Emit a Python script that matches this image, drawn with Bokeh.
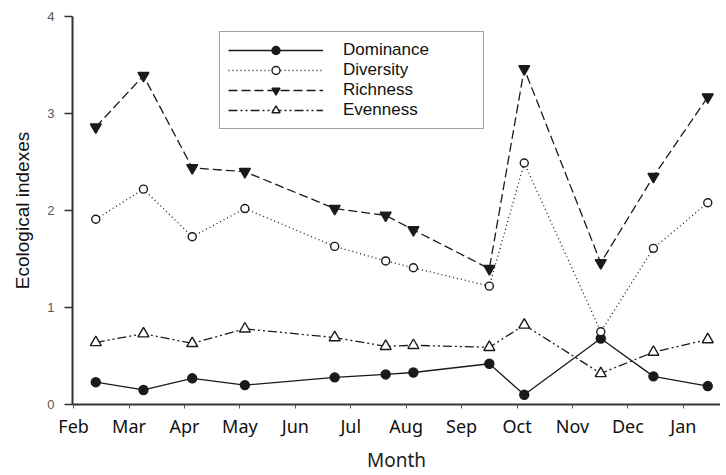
from bokeh.plotting import figure
from bokeh.models import FixedTicker, Range1d
from bokeh.embed import file_html
from bokeh.resources import INLINE

months = ["Feb", "Mar", "Apr", "May", "Jun", "Jul", "Aug", "Sep", "Oct", "Nov", "Dec", "Jan"]
sample_pos = [0.40, 1.26, 2.14, 3.09, 4.71, 5.63, 6.13, 7.50, 8.13, 9.51, 10.46, 11.44]
dominance = [0.23, 0.15, 0.27, 0.20, 0.28, 0.31, 0.33, 0.42, 0.10, 0.68, 0.29, 0.19]
diversity = [1.91, 2.22, 1.73, 2.02, 1.63, 1.48, 1.41, 1.22, 2.49, 0.75, 1.61, 2.08]
richness = [2.86, 3.39, 2.44, 2.40, 2.02, 1.95, 1.80, 1.40, 3.46, 1.46, 2.35, 3.17]
evenness = [0.64, 0.73, 0.63, 0.78, 0.69, 0.60, 0.61, 0.59, 0.82, 0.32, 0.54, 0.67]

p = figure(width=720, height=475, output_backend="svg", toolbar_location=None,
           x_range=Range1d(-0.02, 11.67), y_range=Range1d(0, 4),
           min_border_left=72, min_border_right=0, min_border_top=16, min_border_bottom=70)
p.outline_line_color = None
p.xgrid.visible = False
p.ygrid.visible = False
p.background_fill_color = "white"

ink = "#1a1a1a"
series = [
    ("Dominance", dominance, "solid", "circle", ink, 9),
    ("Diversity", diversity, "1 3", "circle", "white", 8),
    ("Richness", richness, "9 4", "inverted_triangle", ink, 11),
    ("Evenness", evenness, "9 3 2 3 2 3", "triangle", "white", 11),
]
for name, vals, dash, marker, fill, size in series:
    p.line(sample_pos, vals, line_color=ink, line_width=1.3, line_dash=dash, legend_label=name)
    p.scatter(sample_pos, vals, marker=marker, size=size, line_color=ink, line_width=1.4,
              fill_color=fill, legend_label=name)

# x axis
p.xaxis.ticker = FixedTicker(ticks=list(range(len(months))))
p.xaxis.major_label_overrides = {i: m for i, m in enumerate(months)}
p.xaxis.axis_label = "Month"
p.xaxis.axis_line_width = 2
p.xaxis.axis_line_color = "#333333"
p.xaxis.major_tick_line_color = "#555555"
p.xaxis.major_tick_out = 4
p.xaxis.major_tick_in = 0
p.xaxis.minor_tick_line_color = None
p.xaxis.major_label_text_font = "Noto Sans"
p.xaxis.major_label_text_font_size = "18px"
p.xaxis.major_label_text_color = "#111111"
p.xaxis.major_label_standoff = 5
p.xaxis.axis_label_text_font = "Noto Sans"
p.xaxis.axis_label_text_font_size = "19px"
p.xaxis.axis_label_text_font_style = "normal"
p.xaxis.axis_label_text_color = "#222222"
p.xaxis.axis_label_standoff = 6

# y axis
p.yaxis.ticker = FixedTicker(ticks=[0, 1, 2, 3, 4])
p.yaxis.axis_label = "Ecological indexes"
p.yaxis.axis_line_width = 2
p.yaxis.axis_line_color = "#333333"
p.yaxis.major_tick_line_color = "#333333"
p.yaxis.major_tick_line_width = 1.5
p.yaxis.major_tick_out = 8
p.yaxis.major_tick_in = 0
p.yaxis.minor_tick_line_color = None
p.yaxis.major_label_text_font = "Liberation Sans"
p.yaxis.major_label_text_font_size = "13px"
p.yaxis.major_label_text_color = "#555555"
p.yaxis.major_label_standoff = 10
p.yaxis.axis_label_text_font = "Liberation Sans"
p.yaxis.axis_label_text_font_size = "19px"
p.yaxis.axis_label_text_font_style = "normal"
p.yaxis.axis_label_text_color = "#111111"
p.yaxis.axis_label_standoff = 11

# legend
lg = p.legend[0]
lg.location = (147, 275)
lg.border_line_color = "#444444"
lg.border_line_width = 1.5
lg.background_fill_alpha = 1
lg.glyph_width = 95
lg.glyph_height = 20
lg.label_height = 20
lg.label_width = 132
lg.label_standoff = 20
lg.spacing = 0
lg.padding = 8
lg.margin = 0
lg.label_text_font = "Liberation Sans"
lg.label_text_font_size = "17px"
lg.label_text_color = "#111111"

open("out.html", "w").write(file_html(p, INLINE))
